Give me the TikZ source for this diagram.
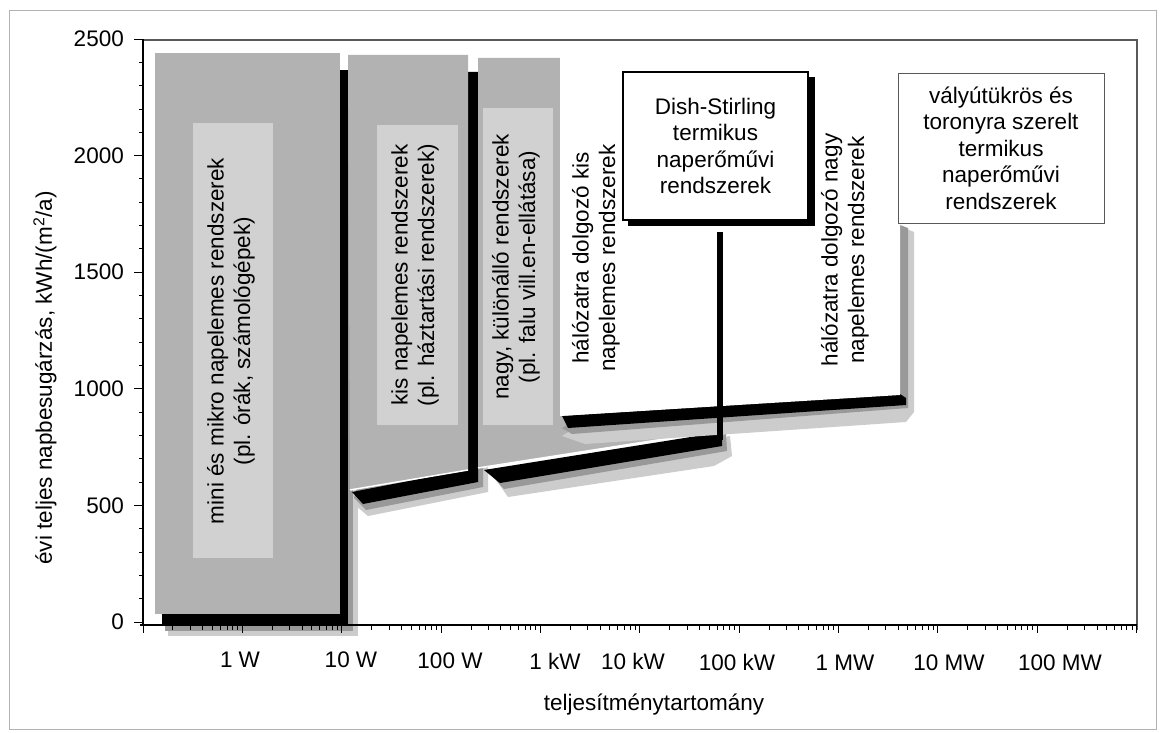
\documentclass[tikz,border=0pt]{standalone}
\usepackage{fontspec}
\setmainfont{Liberation Sans}
\definecolor{regout}{gray}{0.70}
\definecolor{regin}{gray}{0.82}
\definecolor{haloc}{gray}{0.60}
\definecolor{halolt}{gray}{0.80}
\definecolor{framec}{gray}{0.35}
\newcommand\lblfont{\fontsize{22.5}{26.5}\selectfont}
\tikzset{
  regionfill/.style={fill=regout, draw=none},
  innerfill/.style={fill=regin, draw=none},
  haloband/.style={fill=haloc, draw=none},
  halosoft/.style={fill=halolt, draw=none},
  shadowband/.style={fill=black, draw=none},
  edgeline/.style={draw=white, line width=1.5pt},
  vtext/.style={rotate=90, align=center, font=\lblfont, inner sep=0pt},
  boxtext/.style={draw=black, fill=white, align=center, font=\lblfont, inner sep=0pt},
  ticklbl/.style={font=\lblfont, inner sep=0pt},
  axisline/.style={draw=black, line width=1.5pt},
  frameline/.style={draw=framec, line width=1.1pt},
  tickline/.style={draw=black, line width=0.9pt}
}
\begin{document}
\begin{tikzpicture}[x=1pt,y=-1pt]
\useasboundingbox (0,0) rectangle (1163,733);
\fill[white] (0,0) rectangle (1163,733);
% outer border of the page
\draw[draw=gray!60, line width=0.8pt] (9,10) rectangle (1156,729);

% ---------- region 1 : mini es mikro ----------
\fill[halosoft] (168,76) rectangle (358,636);
\fill[haloband] (165,73) rectangle (353,631);
\fill[shadowband] (162,70) rectangle (348,626);
\fill[regionfill] (155,53) rectangle (340,614);
\fill[innerfill] (193,123) rectangle (273,558);

% ---------- region 2 : kis napelemes ----------
\fill[halosoft] (470,78) -- (488,80) -- (488,492) -- (368,516) -- (356,506) -- cycle;
\fill[haloband] (468,75) -- (483,76) -- (483,487) -- (366,510) -- (354,498) -- cycle;
\fill[shadowband] (466,72) -- (478,72) -- (478,482) -- (363,504) -- (352,492) -- (466,470) -- cycle;
\fill[regionfill] (348,55) -- (468,55) -- (468,470) -- (350,490) -- cycle;
\fill[innerfill] (377,125) rectangle (458,425);
\draw[edgeline] (350,490) -- (468,470);

% ---------- region 3 : nagy, kulonallo ----------
\fill[halosoft] (492,474) -- (730,436) -- (732,456) -- (714,466) -- (508,497) -- cycle;
\fill[haloband] (488,472) -- (726,434) -- (727,451) -- (504,489) -- cycle;
\fill[shadowband] (484,470) -- (722,432) -- (722,446) -- (500,483) -- cycle;
\fill[regionfill] (478,58) -- (715,58) -- (715,431) -- (478,468) -- cycle;
\fill[innerfill] (483,108) rectangle (553,425);
\draw[edgeline] (478,468) -- (715,431);

% ---------- regions 4 and 5 : halozatra dolgozo ----------
\fill[halosoft] (900,226) -- (914,232) -- (914,412) -- (906,422) -- (585,444) -- (562,436) -- cycle;
\fill[haloband] (900,225) -- (908,228) -- (908,408) -- (572,434) -- (562,428) -- cycle;
\fill[shadowband] (562,416) -- (900,394) -- (906,398) -- (906,405) -- (568,428) -- cycle;
\fill[white] (560,41) -- (900,41) -- (900,395) -- (560,416) -- cycle;

% ---------- Dish-Stirling box ----------
\fill[shadowband] (628,77) rectangle (815,226);
\node[boxtext, minimum width=185pt, minimum height=148pt, line width=1.2pt] (dish) at (715.5,146)
  {Dish-Stirling\\termikus\\naperőművi\\rendszerek};
\coordinate (stemtop) at (720,232);
\coordinate (stembot) at (720,440);
\draw[line width=6.5pt, draw=black] (stemtop) -- (stembot);

% ---------- valyutukros box ----------
\node[boxtext, draw=framec, minimum width=206pt, minimum height=150pt, line width=0.9pt] (valyu) at (1001,148)
  {vályútükrös és\\toronyra szerelt\\termikus\\naperőművi\\rendszerek};

% ---------- rotated region labels ----------
\node[vtext] (r1) at (231,341) {mini és mikro napelemes rendszerek\\(pl. órák, számológépek)};
\node[vtext] (r2) at (415,275) {kis napelemes rendszerek\\(pl. háztartási rendszerek)};
\node[vtext] (r3) at (516,267) {nagy, különálló rendszerek\\(pl. falu vill.en-ellátása)};
\node[vtext] (r4) at (596,258) {hálózatra dolgozó kis\\napelemes rendszerek};
\node[vtext] (r5) at (845,250) {hálózatra dolgozó nagy\\napelemes rendszerek};

% ---------- axes and frame ----------
\draw[frameline] (143,40) -- (1137,40) -- (1137,630);
\draw[axisline] (143,39) -- (143,626);
\draw[axisline, line width=1.3pt] (140,625) -- (1137,625);

% y ticks
\foreach \k in {1,...,24} {
  \draw[tickline] (143,{622-23.32*\k}) -- ++(-4,0);
}
\foreach \k/\lab in {0/0,1/500,2/1000,3/1500,4/2000,5/2500} {
  \draw[tickline] (143,{622-116.6*\k}) -- ++(-9,0);
  \node[ticklbl, anchor=east] (ylab\k) at (124,{622-116.6*\k}) {\lab};
}

% x ticks (logarithmic)
\foreach \d in {0,...,9} {
  \foreach \m in {2,...,9} {
    \pgfmathsetmacro\xx{143+99.35*\d+99.35*log10(\m)}
    \draw[tickline] (\xx,625) -- ++(0,5);
  }
}
\foreach \d in {0,...,10} {
  \draw[tickline] ({143+99.35*\d},625) -- ++(0,8);
}

% x labels
\node[ticklbl] (x1) at (240,660) {1 W};
\node[ticklbl] (x2) at (351,660) {10 W};
\node[ticklbl] (x3) at (450,661) {100 W};
\node[ticklbl] (x4) at (555,661) {1 kW};
\node[ticklbl] (x5) at (633,661) {10 kW};
\node[ticklbl] (x6) at (737,662) {100 kW};
\node[ticklbl] (x7) at (845,663) {1 MW};
\node[ticklbl] (x8) at (949,663) {10 MW};
\node[ticklbl] (x9) at (1060,663) {100 MW};

% axis titles
\node[ticklbl] (xtitle) at (654,705) {teljesítménytartomány};
\node[ticklbl, rotate=90] (ytitle) at (45,378) {évi teljes napbesugárzás, kWh/(m\textsuperscript{2}/a)};
\end{tikzpicture}
\end{document}
